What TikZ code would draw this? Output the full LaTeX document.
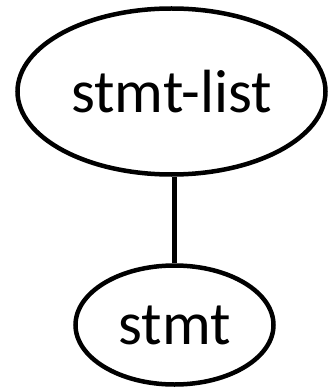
\documentclass[tikz,border=0pt]{standalone}
\usepackage{fontspec}
\setmainfont{Carlito}
\usetikzlibrary{shapes.geometric}
\begin{document}
\begin{tikzpicture}[x=1pt,y=-1pt,
  treenode/.style={ellipse,draw,line width=4.5pt,inner sep=0pt,
    font=\fontsize{61}{61}\selectfont},
  edge/.style={line width=4.5pt}]
  \useasboundingbox (0,0) rectangle (329,390);
  \node[treenode,minimum width=308pt,minimum height=166pt] (list) at (171.5,91.5) {stmt-list};
  \node[treenode,minimum width=198pt,minimum height=119pt] (stmt) at (174.5,325) {stmt};
  \draw[edge] (stmt.north) -- (stmt.north |- list.south);
\end{tikzpicture}
\end{document}
